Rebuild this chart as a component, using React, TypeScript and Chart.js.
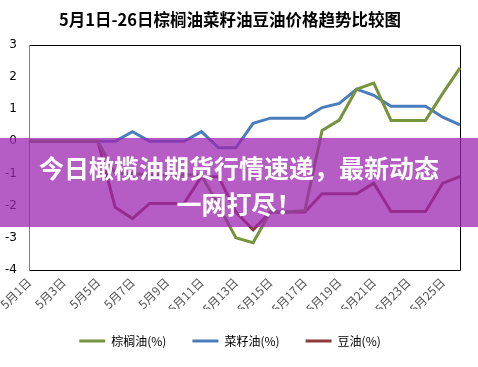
import React, { useEffect, useRef } from 'react';
import { Chart, registerables } from 'chart.js';

Chart.register(...registerables);

const titleText = '5月1日-26日棕榈油菜籽油豆油价格趋势比较图';
const categories = [
  '5月1日', '5月2日', '5月3日', '5月4日', '5月5日', '5月6日', '5月7日', '5月8日', '5月9日',
  '5月10日', '5月11日', '5月12日', '5月13日', '5月14日', '5月15日', '5月16日', '5月17日',
  '5月18日', '5月19日', '5月20日', '5月21日', '5月22日', '5月23日', '5月24日', '5月25日', '5月26日',
];
const seriesNames = ['棕榈油(%)', '菜籽油(%)', '豆油(%)'];
const palmOil = [0, 0, 0, 0, 0, -1.0, -1.0, -1.05, -1.05, -1.05, -1.05, -2.0, -3.0, -3.15, -2.2, -2.2, -2.15, 0.34, 0.66, 1.62, 1.81, 0.65, 0.65, 0.65, 1.49, 2.28];
const rapeseedOil = [0, 0, 0, 0, 0, 0, 0.3, 0, 0, 0, 0.3, -0.2, -0.2, 0.56, 0.72, 0.72, 0.72, 1.05, 1.18, 1.62, 1.43, 1.09, 1.09, 1.09, 0.75, 0.51];
const soybeanOil = [0, 0, 0, 0, 0, -2.05, -2.4, -1.93, -1.93, -1.93, -1.1, -1.1, -2.2, -2.75, -2.2, -2.2, -2.2, -1.63, -1.63, -1.63, -1.3, -2.18, -2.18, -2.18, -1.3, -1.1];
const yMin = -4;
const yMax = 3;
const yStep = 1;
const bannerLines = ['今日橄榄油期货行情速递，最新动态', '一网打尽！'];

const colors = ['#77933C', '#4A7EBB', '#8C3B3B'];
const cjk = '"Noto Sans CJK SC", "Noto Sans", sans-serif';

const framePlugin = {
  id: 'frame',
  beforeDatasetsDraw(chart: any) {
    const { ctx, chartArea } = chart;
    const l = Math.round(chartArea.left) + 0.5;
    const t = Math.round(chartArea.top) + 0.5;
    const r = Math.round(chartArea.right) + 0.5;
    const b = Math.round(chartArea.bottom) + 0.5;
    ctx.save();
    ctx.lineWidth = 1;
    ctx.strokeStyle = '#000';
    ctx.beginPath();
    ctx.moveTo(l, t);
    ctx.lineTo(r, t);
    ctx.lineTo(r, b);
    ctx.lineTo(l, b);
    ctx.stroke();
    ctx.strokeStyle = '#808080';
    ctx.beginPath();
    ctx.moveTo(l, t);
    ctx.lineTo(l, b);
    ctx.stroke();
    ctx.restore();
  },
};

export default function App() {
  const ref = useRef<HTMLCanvasElement>(null);

  useEffect(() => {
    document.body.style.margin = '0';
    const seriesData = [palmOil, rapeseedOil, soybeanOil];
    const chart = new Chart(ref.current as HTMLCanvasElement, {
      type: 'line',
      data: {
        labels: categories,
        datasets: seriesData.map((d, i) => ({
          label: seriesNames[i],
          data: d,
          borderColor: colors[i],
          backgroundColor: colors[i],
          borderWidth: 3,
          pointRadius: 0,
          tension: 0,
        })),
      },
      options: {
        animation: false,
        responsive: true,
        maintainAspectRatio: false,
        layout: { padding: { left: 0, right: 18, top: 0, bottom: 18 } },
        plugins: {
          title: {
            display: true,
            text: titleText,
            color: '#000',
            font: { family: cjk, size: 16.5, weight: 'bold' },
            padding: { top: 10, bottom: 15 },
          },
          legend: {
            position: 'bottom',
            maxHeight: 40,
            labels: {
              boxWidth: 26,
              boxHeight: 3,
              padding: 26,
              color: '#000',
              font: { family: cjk, size: 12 },
              generateLabels(c: any) {
                return c.data.datasets.map((ds: any, i: number) => ({
                  text: ds.label,
                  fillStyle: ds.borderColor,
                  strokeStyle: ds.borderColor,
                  lineWidth: 0,
                  hidden: false,
                  datasetIndex: i,
                }));
              },
            },
          },
          tooltip: { enabled: false },
        },
        scales: {
          x: {
            grid: { display: false, drawTicks: false },
            border: { display: false },
            ticks: {
              autoSkip: false,
              maxRotation: 45,
              minRotation: 45,
              padding: 5,
              color: '#555',
              font: { family: cjk, size: 12 },
              callback: (_v: any, i: number) => (i % 2 === 0 ? categories[i] : ''),
            },
            afterFit(s: any) {
              s.height = 39;
              s.paddingLeft = 0;
              s.paddingRight = 0;
            },
          },
          y: {
            min: yMin,
            max: yMax,
            grid: { display: false, drawTicks: false },
            border: { display: false },
            ticks: {
              stepSize: yStep,
              padding: 12,
              color: '#000',
              font: { family: '"DejaVu Sans", sans-serif', size: 12 },
            },
            afterFit(s: any) {
              s.width = 29;
            },
          },
        },
      },
      plugins: [framePlugin],
    } as any);
    return () => chart.destroy();
  }, []);

  return (
    <div style={{ position: 'relative', width: 478, height: 367, background: '#fff', overflow: 'hidden' }}>
      <div style={{ position: 'absolute', left: 0, top: 0, width: 478, height: 367 }}>
        <canvas ref={ref} />
      </div>
      <div
        style={{
          position: 'absolute',
          left: 0,
          top: 138,
          width: 478,
          height: 89,
          boxSizing: 'border-box',
          paddingTop: 11,
          background: 'rgba(156,39,176,0.75)',
          color: '#fff',
          textAlign: 'center',
          fontFamily: cjk,
          fontWeight: 700,
          fontSize: 25,
          lineHeight: '36px',
          whiteSpace: 'nowrap',
        }}
      >
        {bannerLines.map((line) => (
          <div key={line}>{line}</div>
        ))}
      </div>
    </div>
  );
}
